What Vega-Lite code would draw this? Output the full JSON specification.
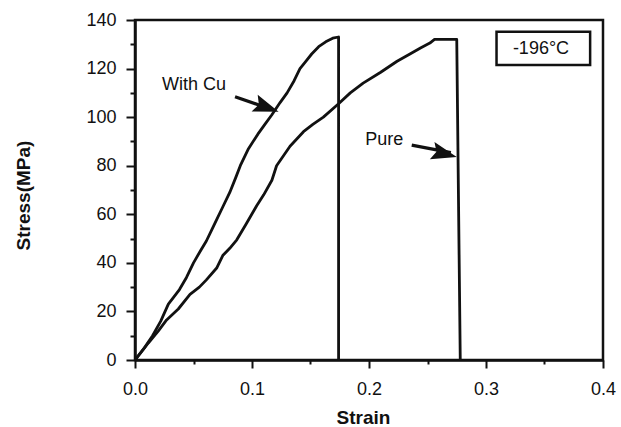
{
  "$schema": "https://vega.github.io/schema/vega-lite/v6.json",
  "width": 468,
  "height": 340,
  "autosize": "none",
  "padding": {"left": 135, "top": 20, "right": 18, "bottom": 67},
  "background": "white",
  "config": {
    "view": {"stroke": "#111", "strokeWidth": 2.5},
    "font": "Liberation Sans"
  },
  "resolve": {"axis": {"x": "independent", "y": "independent"}},
  "datasets": {
    "curves": [
      {"series": "With Cu", "i": 0, "strain": 0, "stress": 0},
      {"series": "With Cu", "i": 1, "strain": 0.008, "stress": 5},
      {"series": "With Cu", "i": 2, "strain": 0.015, "stress": 10},
      {"series": "With Cu", "i": 3, "strain": 0.022, "stress": 16},
      {"series": "With Cu", "i": 4, "strain": 0.0285, "stress": 23},
      {"series": "With Cu", "i": 5, "strain": 0.038, "stress": 29},
      {"series": "With Cu", "i": 6, "strain": 0.044, "stress": 34},
      {"series": "With Cu", "i": 7, "strain": 0.05, "stress": 40},
      {"series": "With Cu", "i": 8, "strain": 0.056, "stress": 45},
      {"series": "With Cu", "i": 9, "strain": 0.061, "stress": 49},
      {"series": "With Cu", "i": 10, "strain": 0.066, "stress": 54},
      {"series": "With Cu", "i": 11, "strain": 0.07, "stress": 58},
      {"series": "With Cu", "i": 12, "strain": 0.075, "stress": 63},
      {"series": "With Cu", "i": 13, "strain": 0.081, "stress": 69},
      {"series": "With Cu", "i": 14, "strain": 0.086, "stress": 75},
      {"series": "With Cu", "i": 15, "strain": 0.09, "stress": 80},
      {"series": "With Cu", "i": 16, "strain": 0.097, "stress": 87},
      {"series": "With Cu", "i": 17, "strain": 0.105, "stress": 93},
      {"series": "With Cu", "i": 18, "strain": 0.111, "stress": 97},
      {"series": "With Cu", "i": 19, "strain": 0.117, "stress": 101},
      {"series": "With Cu", "i": 20, "strain": 0.124, "stress": 106},
      {"series": "With Cu", "i": 21, "strain": 0.13, "stress": 110},
      {"series": "With Cu", "i": 22, "strain": 0.136, "stress": 115},
      {"series": "With Cu", "i": 23, "strain": 0.141, "stress": 120},
      {"series": "With Cu", "i": 24, "strain": 0.146, "stress": 123},
      {"series": "With Cu", "i": 25, "strain": 0.151, "stress": 126},
      {"series": "With Cu", "i": 26, "strain": 0.157, "stress": 129},
      {"series": "With Cu", "i": 27, "strain": 0.163, "stress": 131},
      {"series": "With Cu", "i": 28, "strain": 0.169, "stress": 132.5},
      {"series": "With Cu", "i": 29, "strain": 0.174, "stress": 133},
      {"series": "With Cu", "i": 30, "strain": 0.174, "stress": 0},
      {"series": "Pure", "i": 0, "strain": 0, "stress": 0},
      {"series": "Pure", "i": 1, "strain": 0.0114, "stress": 7},
      {"series": "Pure", "i": 2, "strain": 0.02, "stress": 12},
      {"series": "Pure", "i": 3, "strain": 0.027, "stress": 16.5},
      {"series": "Pure", "i": 4, "strain": 0.037, "stress": 21},
      {"series": "Pure", "i": 5, "strain": 0.047, "stress": 27},
      {"series": "Pure", "i": 6, "strain": 0.055, "stress": 30},
      {"series": "Pure", "i": 7, "strain": 0.061, "stress": 33},
      {"series": "Pure", "i": 8, "strain": 0.07, "stress": 38},
      {"series": "Pure", "i": 9, "strain": 0.075, "stress": 43},
      {"series": "Pure", "i": 10, "strain": 0.081, "stress": 46},
      {"series": "Pure", "i": 11, "strain": 0.087, "stress": 49.5},
      {"series": "Pure", "i": 12, "strain": 0.095, "stress": 56},
      {"series": "Pure", "i": 13, "strain": 0.104, "stress": 63.5},
      {"series": "Pure", "i": 14, "strain": 0.11, "stress": 68},
      {"series": "Pure", "i": 15, "strain": 0.117, "stress": 74},
      {"series": "Pure", "i": 16, "strain": 0.121, "stress": 80},
      {"series": "Pure", "i": 17, "strain": 0.1325, "stress": 88},
      {"series": "Pure", "i": 18, "strain": 0.144, "stress": 94},
      {"series": "Pure", "i": 19, "strain": 0.152, "stress": 97},
      {"series": "Pure", "i": 20, "strain": 0.161, "stress": 100},
      {"series": "Pure", "i": 21, "strain": 0.174, "stress": 105.5},
      {"series": "Pure", "i": 22, "strain": 0.184, "stress": 110},
      {"series": "Pure", "i": 23, "strain": 0.195, "stress": 114},
      {"series": "Pure", "i": 24, "strain": 0.21, "stress": 118.5},
      {"series": "Pure", "i": 25, "strain": 0.224, "stress": 123},
      {"series": "Pure", "i": 26, "strain": 0.235, "stress": 126},
      {"series": "Pure", "i": 27, "strain": 0.244, "stress": 128.5},
      {"series": "Pure", "i": 28, "strain": 0.252, "stress": 130.5},
      {"series": "Pure", "i": 29, "strain": 0.256, "stress": 132},
      {"series": "Pure", "i": 30, "strain": 0.275, "stress": 132},
      {"series": "Pure", "i": 31, "strain": 0.278, "stress": 0}
    ],
    "labels": [
      {"text": "With Cu", "strain": 0.0504, "stress": 113.2},
      {"text": "Pure", "strain": 0.213, "stress": 90.4}
    ],
    "arrows": [
      {"name": "With Cu", "strain": 0.0855, "stress": 108.4, "strain2": 0.115, "stress2": 103.5},
      {"name": "Pure", "strain": 0.2365, "stress": 88.5, "strain2": 0.27, "stress2": 85.4}
    ],
    "heads": [
      {"name": "With Cu", "strain": 0.1125, "stress": 104.0},
      {"name": "Pure", "strain": 0.2645, "stress": 84.9}
    ],
    "box": [
      {"strain": 0.309, "strain2": 0.389, "stress": 135.2, "stress2": 121.5, "text": "-196°C", "cx": 0.347, "cy": 128.1}
    ]
  },
  "layer": [
    {
      "data": {"name": "curves"},
      "mark": {"type": "line", "color": "#111", "strokeWidth": 2.8, "strokeJoin": "round", "clip": true},
      "encoding": {
        "x": {
          "field": "strain", "type": "quantitative",
          "scale": {"domain": [0, 0.4], "nice": false, "zero": false},
          "axis": {
            "orient": "bottom",
            "values": [0, 0.1, 0.2, 0.3, 0.4],
            "format": ".1f",
            "labelOverlap": false,
            "labelFlush": false,
            "labelFontSize": 18,
            "labelColor": "#111",
            "labelPadding": 12,
            "tickColor": "#111",
            "tickWidth": 2,
            "tickSize": 8,
            "domainColor": "#111",
            "domainWidth": 2.5,
            "grid": false,
            "title": "Strain",
            "titleFontSize": 19,
            "titleFontWeight": "bold",
            "titleColor": "#111",
            "titleX": 228,
            "titleY": 63,
            "titleBaseline": "alphabetic",
            "titleAlign": "center"
          }
        },
        "y": {
          "field": "stress", "type": "quantitative",
          "scale": {"domain": [0, 140], "nice": false},
          "axis": {
            "orient": "left",
            "values": [0, 20, 40, 60, 80, 100, 120, 140],
            "labelOverlap": false,
            "labelFlush": false,
            "labelFontSize": 18,
            "labelColor": "#111",
            "labelPadding": 10,
            "tickColor": "#111",
            "tickWidth": 2,
            "tickSize": 9,
            "domainColor": "#111",
            "domainWidth": 2.5,
            "grid": false,
            "title": "Stress(MPa)",
            "titleFontSize": 19,
            "titleFontWeight": "bold",
            "titleColor": "#111",
            "titleX": -102,
            "titleY": 175,
            "titleAngle": -90,
            "titleAlign": "center",
            "titleBaseline": "bottom"
          }
        },
        "detail": {"field": "series"},
        "order": {"field": "i", "type": "quantitative"}
      }
    },
    {
      "data": {"name": "curves"},
      "mark": {"type": "point", "opacity": 0, "size": 1},
      "encoding": {
        "x": {
          "field": "strain", "type": "quantitative",
          "axis": {
            "orient": "bottom",
            "values": [0.05, 0.15, 0.25, 0.35],
            "labels": false,
            "domain": false,
            "grid": false,
            "tickColor": "#111",
            "tickWidth": 2,
            "tickSize": 4,
            "title": null
          }
        },
        "y": {
          "field": "stress", "type": "quantitative",
          "axis": {
            "orient": "left",
            "values": [10, 30, 50, 70, 90, 110, 130],
            "labels": false,
            "domain": false,
            "grid": false,
            "tickColor": "#111",
            "tickWidth": 2,
            "tickSize": 5,
            "title": null
          }
        }
      }
    },
    {
      "data": {"name": "arrows"},
      "mark": {"type": "rule", "color": "#111", "strokeWidth": 3.2},
      "encoding": {
        "x": {"field": "strain", "type": "quantitative", "axis": null},
        "y": {"field": "stress", "type": "quantitative", "axis": null},
        "x2": {"field": "strain2"},
        "y2": {"field": "stress2"}
      }
    },
    {
      "data": {"name": "heads"},
      "transform": [{"filter": "datum.name === 'With Cu'"}],
      "mark": {"type": "point", "shape": "M1,0L-1,-0.7L-0.65,0L-1,0.7Z", "size": 650, "filled": true, "color": "#111", "opacity": 1, "angle": 20},
      "encoding": {
        "x": {"field": "strain", "type": "quantitative", "axis": null},
        "y": {"field": "stress", "type": "quantitative", "axis": null}
      }
    },
    {
      "data": {"name": "heads"},
      "transform": [{"filter": "datum.name === 'Pure'"}],
      "mark": {"type": "point", "shape": "M1,0L-1,-0.7L-0.65,0L-1,0.7Z", "size": 650, "filled": true, "color": "#111", "opacity": 1, "angle": 15},
      "encoding": {
        "x": {"field": "strain", "type": "quantitative", "axis": null},
        "y": {"field": "stress", "type": "quantitative", "axis": null}
      }
    },
    {
      "data": {"name": "labels"},
      "mark": {"type": "text", "fontSize": 18, "color": "#111", "align": "center", "baseline": "middle"},
      "encoding": {
        "x": {"field": "strain", "type": "quantitative", "axis": null},
        "y": {"field": "stress", "type": "quantitative", "axis": null},
        "text": {"field": "text"}
      }
    },
    {
      "data": {"name": "box"},
      "mark": {"type": "rect", "fill": "white", "stroke": "#111", "strokeWidth": 2.5},
      "encoding": {
        "x": {"field": "strain", "type": "quantitative", "axis": null},
        "x2": {"field": "strain2"},
        "y": {"field": "stress", "type": "quantitative", "axis": null},
        "y2": {"field": "stress2"}
      }
    },
    {
      "data": {"name": "box"},
      "mark": {"type": "text", "fontSize": 18, "color": "#111", "align": "center", "baseline": "middle"},
      "encoding": {
        "x": {"field": "cx", "type": "quantitative", "axis": null},
        "y": {"field": "cy", "type": "quantitative", "axis": null},
        "text": {"field": "text"}
      }
    }
  ]
}
